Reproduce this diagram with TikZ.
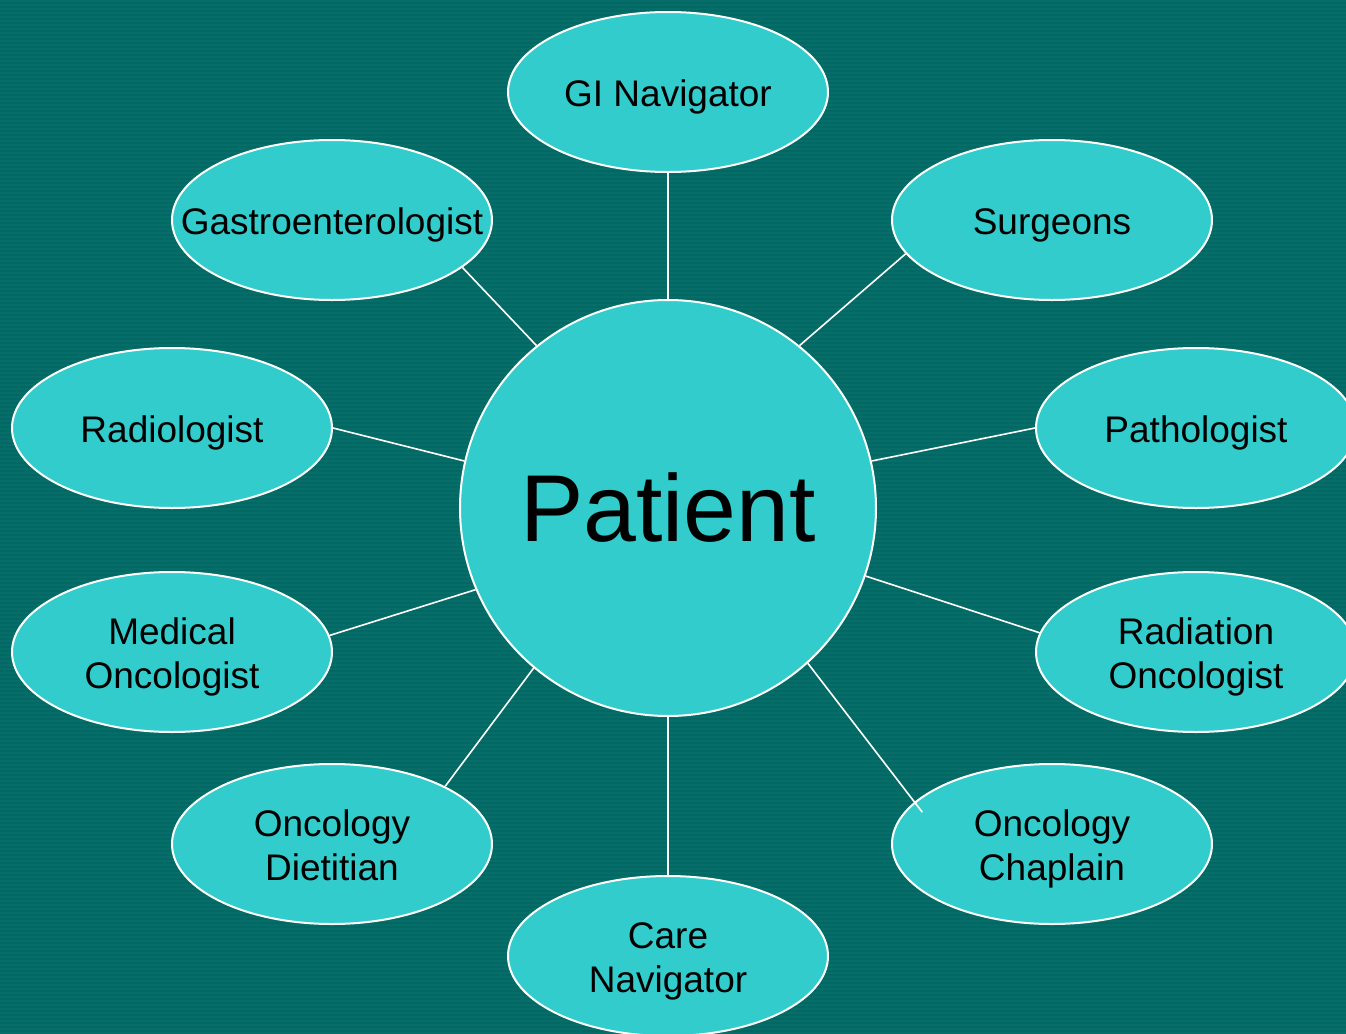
\documentclass[tikz,border=0pt]{standalone}
\usepackage{fontspec}
\setmainfont{Liberation Sans}
\usetikzlibrary{shapes.geometric}
\definecolor{bgteal}{RGB}{0,105,100}
\definecolor{bubble}{RGB}{51,204,204}
\newcommand{\lbl}[1]{\raisebox{-2.8pt}[\height][\depth]{\begin{tabular}{@{}c@{}}#1\end{tabular}}}
\tikzset{
  role/.style={ellipse, draw=white, line width=1pt, fill=bubble,
    minimum width=160pt, minimum height=80pt, inner sep=0pt,
    text=black, font=\fontsize{18.5}{22}\selectfont},
  hub/.style={circle, draw=white, line width=1pt, fill=bubble,
    minimum size=208pt, inner sep=0pt, text=black,
    font=\fontsize{47.5}{50}\selectfont},
  link/.style={draw=white, line width=0.8pt}
}
\begin{document}
\begin{tikzpicture}[x=0.5pt, y=-0.5pt]
\clip (0,0) rectangle (1346,1034);
\fill[bgteal] (0,0) rectangle (1346,1034);
\foreach \i in {0,4,...,1032} \fill[white, opacity=0.03] (0,\i) rectangle (1346,\i+2);
\node[hub] (p) at (668,508) {Patient};
\node[role] (gi) at (668,92) {\lbl{GI Navigator}};
\node[role, inner xsep=-22pt] (ga) at (332,220) {\lbl{Gastroenterologist}};
\node[role] (su) at (1052,220) {\lbl{Surgeons}};
\node[role] (ra) at (172,428) {\lbl{Radiologist}};
\node[role] (pa) at (1196,428) {\lbl{Pathologist}};
\node[role] (mo) at (172,652) {\lbl{Medical\\Oncologist}};
\node[role] (ro) at (1196,652) {\lbl{Radiation\\Oncologist}};
\node[role] (di) at (332,844) {\lbl{Oncology\\Dietitian}};
\node[role] (ch) at (1052,844) {\lbl{Oncology\\Chaplain}};
\node[role] (cn) at (668,956) {\lbl{Care\\Navigator}};
\draw[link] (p.90) -- (gi.-90);
\draw[link] (p.129) -- (ga.-20);
\draw[link] (p.51) -- (su.193);
\draw[link] (p.167) -- (ra.0);
\draw[link] (p.13) -- (pa.180);
\draw[link] (p.203) -- (mo.6);
\draw[link] (p.-19) -- (ro.173);
\draw[link] (p.230) -- (di.27);
\draw[link, shorten >=-6.5pt] (p.-48) -- (ch.163);
\draw[link] (p.-90) -- (cn.90);
\end{tikzpicture}
\end{document}
